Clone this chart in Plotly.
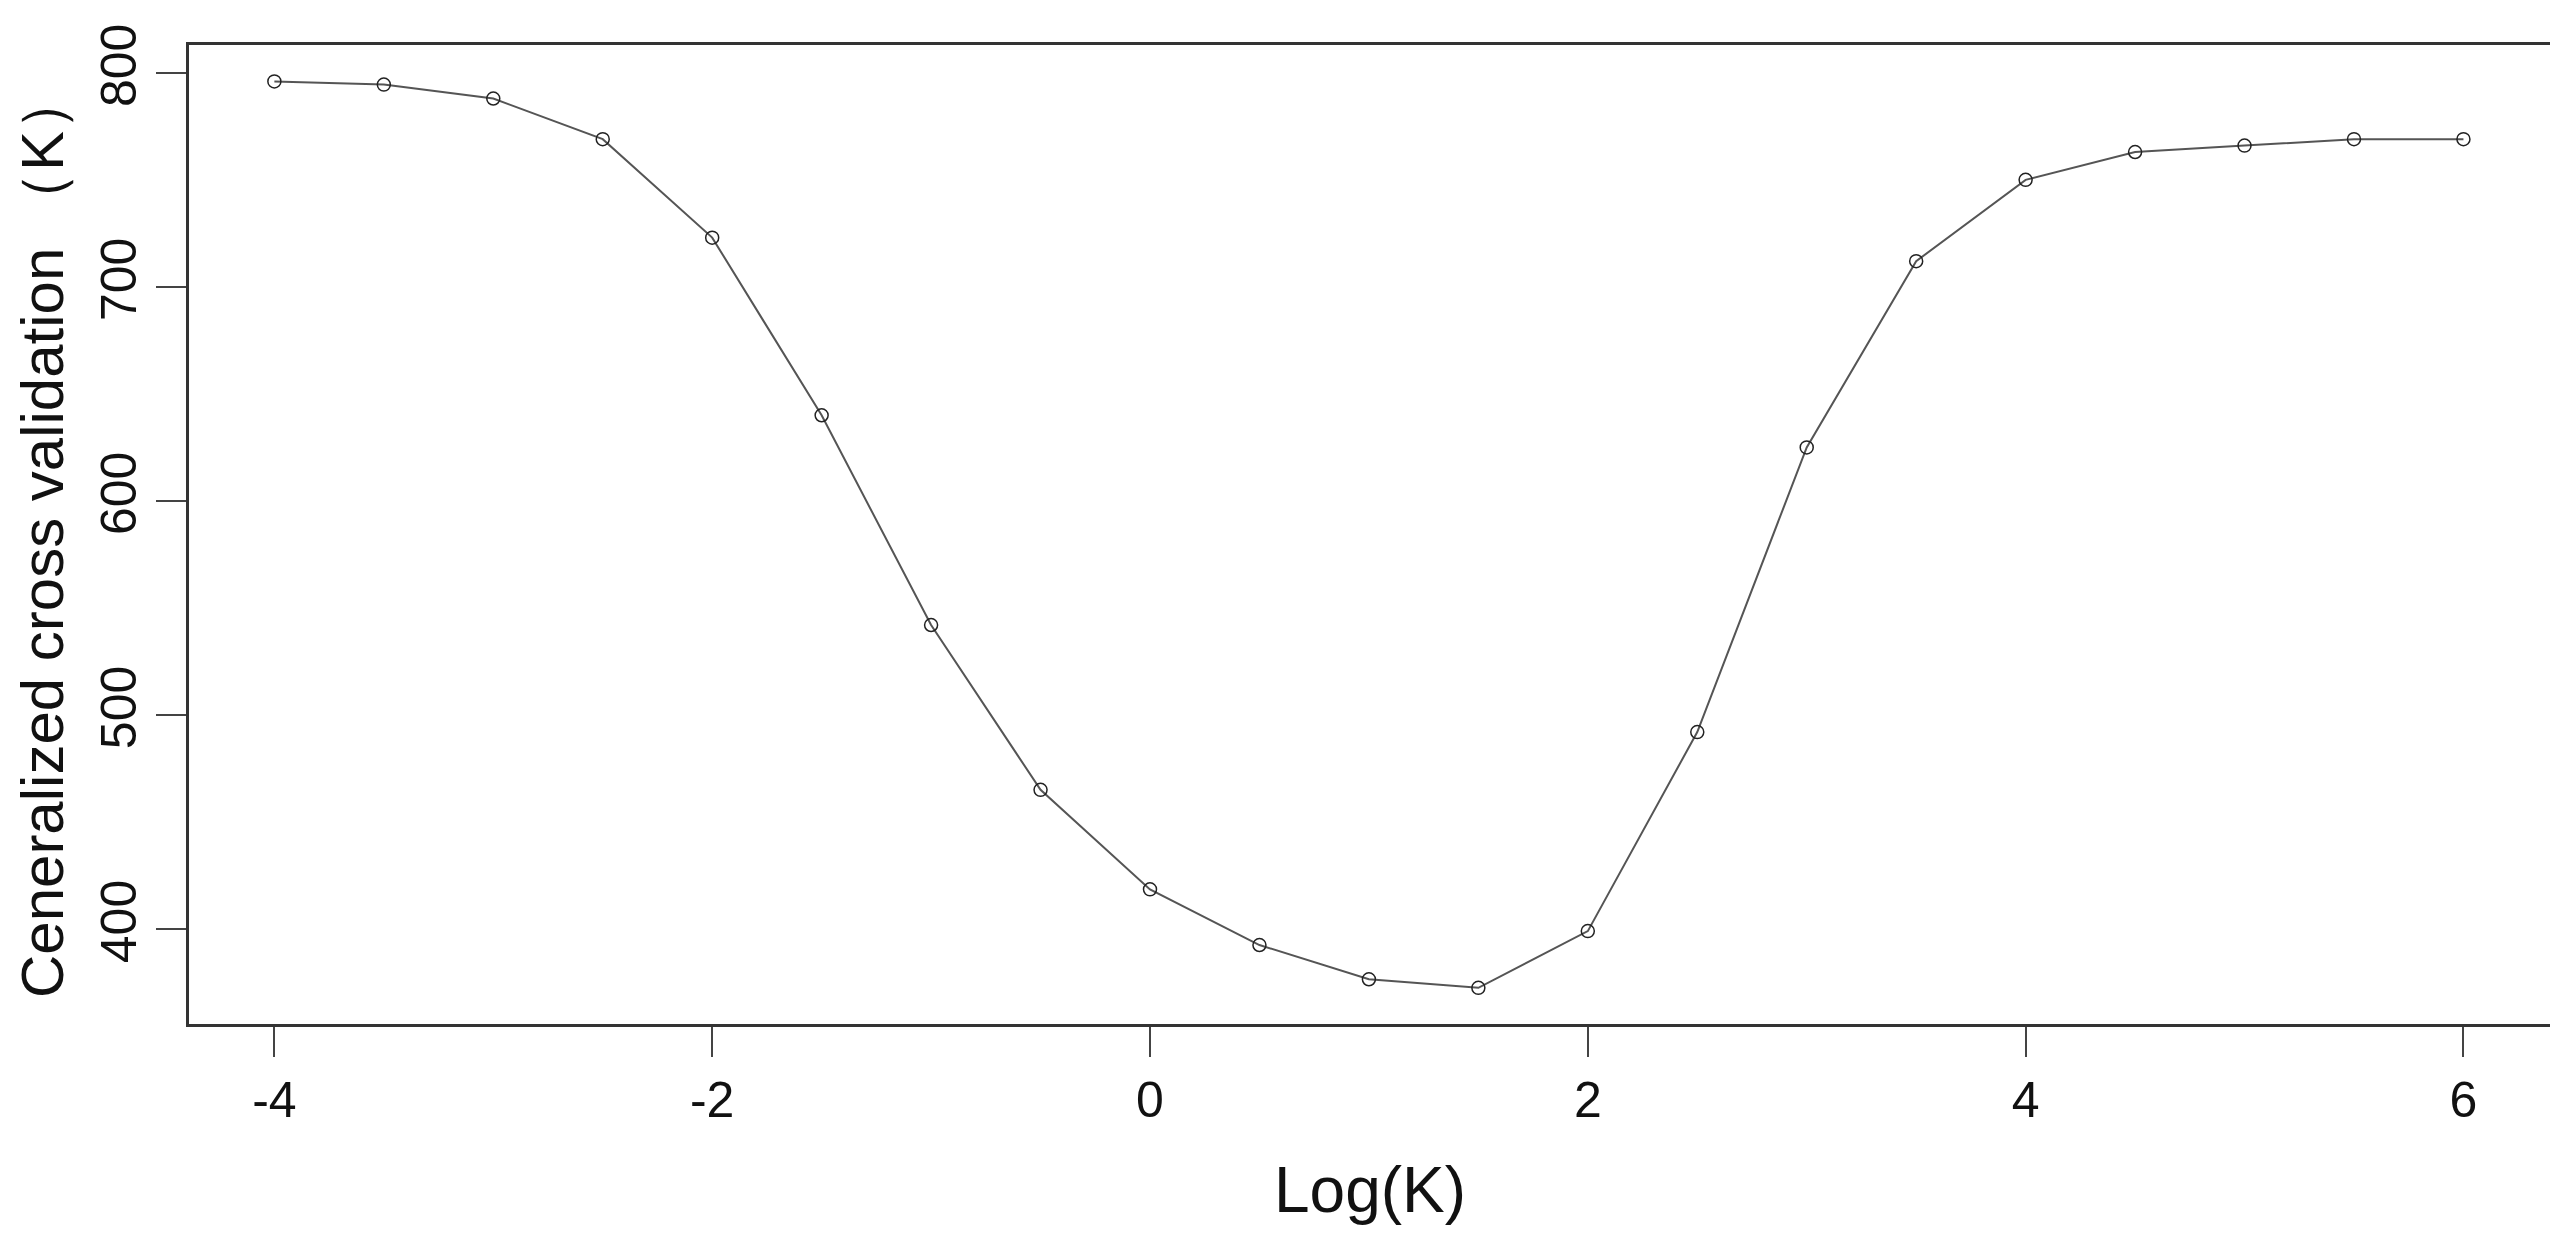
import plotly.graph_objects as go

log_k = [-4, -3.5, -3, -2.5, -2, -1.5, -1, -0.5, 0, 0.5, 1, 1.5, 2, 2.5, 3, 3.5, 4, 4.5, 5, 5.5, 6]
gcv = [796, 794.5, 788, 769, 723, 640, 542, 465, 418.5, 392.5, 376.5, 372.5, 399, 492, 625, 712, 750, 763, 766, 769, 769]
x_ticks = [-4, -2, 0, 2, 4, 6]
y_ticks = [400, 500, 600, 700, 800]

fig = go.Figure(go.Scatter(
    x=log_k, y=gcv, mode="lines+markers",
    line=dict(color="#555555", width=2),
    marker=dict(symbol="circle-open", size=13, color="#222222", line=dict(width=1.5)),
))

sans = "Liberation Sans, Arial, sans-serif"
fig.update_layout(
    width=2558, height=1244, plot_bgcolor="white", paper_bgcolor="white",
    margin=dict(l=181, r=13, t=37, b=228), showlegend=False,
    xaxis=dict(range=[-4.39, 6.40], tickvals=x_ticks, ticktext=["-4", "-2", "0", "2", "4", "6"],
               ticks="outside", ticklen=30, tickwidth=2,
               tickcolor="#444", showgrid=False, zeroline=False, showline=True, linecolor="#333",
               linewidth=3, mirror=True, tickfont=dict(family=sans, size=50, color="#111")),
    yaxis=dict(range=[355.6, 813], tickvals=y_ticks, ticks="outside", ticklen=30, tickwidth=2,
               tickcolor="#444", showgrid=False, zeroline=False, showline=True, linecolor="#333",
               linewidth=3, mirror=True, tickangle=-90,
               tickfont=dict(family=sans, size=50, color="#111")),
    annotations=[
        dict(text="Log(K)", xref="paper", yref="paper", x=0.5, y=-0.17, yanchor="middle",
             showarrow=False, font=dict(family=sans, size=64, color="#111")),
        dict(text="Ceneralized cross validation （K）", xref="paper", yref="paper",
             x=-0.062, xanchor="center", y=0.5, textangle=-90, showarrow=False,
             font=dict(family=sans, size=60, color="#111")),
    ],
)
fig.write_html("out.html")
